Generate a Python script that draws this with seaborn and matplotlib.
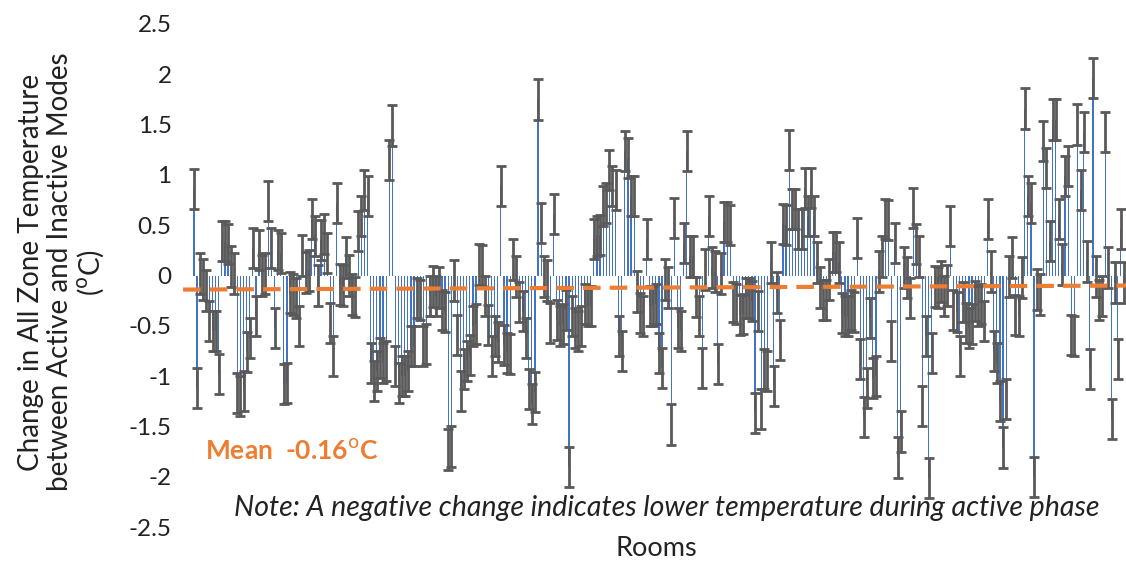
import matplotlib
matplotlib.use("Agg")
import matplotlib.pyplot as plt
import seaborn as sns
import numpy as np
import pandas as pd

# ---- data, change in temperature per room (°C) ----
change_part1 = [0.86, -1.12, 0.02, -0.04, -0.15, -0.45, -0.55, -0.55, -0.98, 0.34,
                0.34, 0.31, 0.09, 0.02, -1.17, -1.20, -1.15, -0.76, -0.62, 0.27,
                -0.40, 0.25, 0.00, 0.02, 0.74, 0.27, -0.52, 0.25, 0.22, -1.08,
                -1.07, -0.17, -0.19, -0.22, -0.50, 0.20, 0.03, 0.05, 0.56, 0.39,
                -0.10, 0.35]
change_part2 = [0.41, 0.22, -0.47, -0.80, 0.72, -0.09, -0.10, 0.18, 0.00, -0.19,
                -0.21, 0.44, 0.59, 0.85, 0.79, -0.87, -1.05, -0.95, -0.82, -0.87,
                -0.85, 1.15, 1.49, -0.90, -1.07, -1.00, -1.00, -0.95, -0.70, -0.70,
                -0.22, -0.24, -0.70, -0.68, -0.20, -0.11, -0.20, -0.12, -0.34, -0.36,
                -1.73, -1.70, -0.05]
change_part3 = [-0.59, -1.15, -0.93, -0.85, -0.79, -0.50, -0.48, 0.11, 0.10, -0.20,
                -0.49, -0.80, -0.60, -0.66, 0.89, -0.69, -0.77, -0.78, 0.16, -0.01,
                -0.26, -0.35, -0.62, -1.13, -1.28, -1.16, 1.75, 0.52, -0.01, -0.05,
                -0.47, 0.61, -0.44, -0.50, -0.48, -0.34, -1.90, -0.40, -0.52, -0.55,
                -0.50, -0.28]
change_part4 = [-0.30, -0.30, 0.36, 0.39, 0.40, 0.69, 0.72, 1.05, 0.89, 0.85,
                -0.60, -0.75, 1.24, 1.17, 0.79, 0.79, -0.16, -0.37, -0.40, 0.36,
                -0.30, -0.30, -0.28, -0.77, -0.92, -0.04, -0.12, -1.48, 0.57, -0.52,
                -0.55, 0.32, 1.24, 0.19, 0.19, -0.21, -0.40, -0.92, 0.06, 0.59,
                0.08, 0.04, -0.88]
change_part5 = [0.02, 0.53, 0.53, 0.50, -0.26, -0.28, -0.39, -0.38, -0.22, -0.22,
                -0.25, -1.37, -0.35, -1.33, -0.93, -0.95, 0.13, -1.10, -0.17, -0.64,
                0.51, 0.50, 1.25, 0.66, 0.66, 0.46, 0.46, 0.87, 0.59, 0.87,
                0.59, 0.13, -0.12, -0.24, -0.24, -0.04, 0.23, 0.23, 0.13, -0.37,
                -0.40, -0.40]
change_part6 = [-0.34, -0.36, 0.37, -0.83, -1.41, -1.12, -0.42, -1.02, -1.00, 0.04,
                0.19, 0.56, 0.55, -0.65, 0.32, -1.81, -1.55, 0.08, -0.02, -0.22,
                0.67, 0.31, 0.19, -1.30, -0.60, -2.01, -0.77, -0.11, -0.12, -0.06,
                -0.20, -0.10, 0.49, -0.34, -0.36, -0.80, -0.26, -0.47, -0.52, -0.48,
                -0.25, -0.30, -0.28]
change_part7 = [-0.45, 0.56, 0.04, -0.75, -0.87, -1.25, -1.71, -1.23, -0.01, 0.18,
                -0.39, -0.40, -0.02, 1.66, 0.79, 0.72, -2.00, -0.14, -0.19, 1.34,
                1.07, 0.34, 1.55, 1.55, 0.56, 0.11, 0.99, 1.09, -0.59, -0.60,
                1.50, 0.85, 1.43, 0.14, -0.93, 1.96, -0.01, -0.24, -0.20, 1.43,
                0.08, -1.43, -0.07, -0.83, 0.46, -0.07]
error_half = 0.20                 # error bar half-length (°C)
mean_trend = [-0.14, -0.10]       # dashed mean line, left end / right end
mean_label = "Mean  -0.16$^{\\mathrm{o}}$C"
ytick_values = [2.5, 2, 1.5, 1, 0.5, 0, -0.5, -1, -1.5, -2, -2.5]
ytick_labels = ["2.5", "2", "1.5", "1", "0.5", "0", "-0.5", "-1", "-1.5", "-2", "-2.5"]

values = (change_part1 + change_part2 + change_part3 + change_part4 +
          change_part5 + change_part6 + change_part7)
rooms = list(range(len(values)))
df = pd.DataFrame({"room": rooms, "change": values})

sns.set_theme(style="white")
plt.rcParams["font.family"] = ["Lato", "DejaVu Sans"]

fig = plt.figure(figsize=(11.26, 5.62), dpi=100)
W, H = 1126, 562
ax = fig.add_axes([180 / W, (H - 527) / H, (W - 180) / W, 503 / H])

sns.barplot(data=df, x="room", y="change", color="#4472C4", saturation=1,
            width=0.38, errorbar=None, ax=ax, linewidth=0)
ax.errorbar(df["room"], df["change"], yerr=error_half, fmt="none",
            ecolor="#595959", elinewidth=2.0, capsize=3.4, capthick=2.0, zorder=3)

xmin = -4.5
xmax = xmin + (W - 180) / 3.1
ax.set_xlim(xmin, xmax)
ax.plot([xmin + 1, xmax], mean_trend, color="#ED7D31", linewidth=3,
        dashes=(4.2, 2.2), zorder=4)

ax.set_ylim(-2.5, 2.5)
ax.set_yticks(ytick_values)
ax.set_yticklabels(ytick_labels, fontsize=17.5, color="#222222")
ax.tick_params(axis="y", length=0, pad=6)
ax.set_xticks([])
ax.set_xlabel("")
ax.set_ylabel("")
for s in ax.spines.values():
    s.set_visible(False)

ax.text(0.026, 0.153, mean_label, transform=ax.transAxes, fontsize=19,
        color="#ED7D31", fontweight="bold", va="center", ha="left")
ax.text(0.515, 0.038, "Note: A negative change indicates lower temperature during active phase",
        transform=ax.transAxes, fontsize=20.5, style="italic", color="#222222",
        ha="center", va="center")
fig.text(656 / W, (H - 548) / H, "Rooms", fontsize=19.5, color="#222222",
         ha="center", va="center")
fig.text(62 / W, (H - 272) / H,
         "Change in All Zone Temperature\nbetween Active and Inactive Modes\n($^{\\mathrm{o}}$C)",
         rotation=90, fontsize=20, color="#222222", ha="center", va="center",
         multialignment="center", linespacing=1.1)

fig.savefig("out.png", dpi=100)
